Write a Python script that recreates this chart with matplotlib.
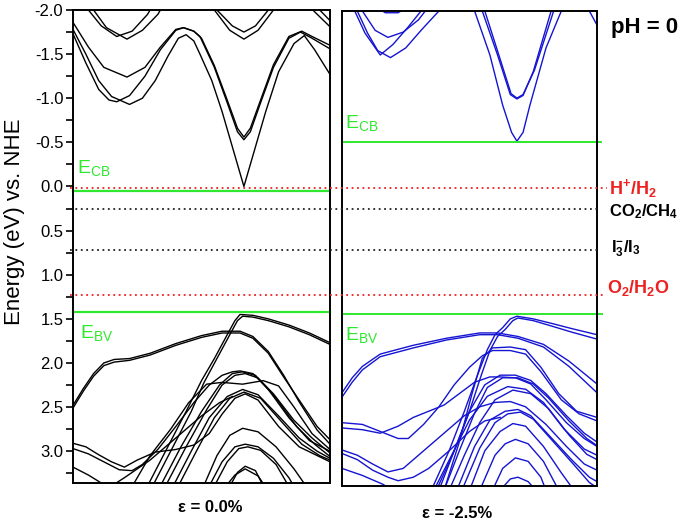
import matplotlib.pyplot as plt
from matplotlib.lines import Line2D
from matplotlib.ticker import MultipleLocator, FormatStrFormatter
from matplotlib.transforms import blended_transform_factory

plt.rcParams['font.family'] = ['Liberation Sans', 'DejaVu Sans']
plt.rcParams['mathtext.fontset'] = 'custom'
plt.rcParams['mathtext.rm'] = 'Liberation Sans'
plt.rcParams['mathtext.bf'] = 'Liberation Sans:bold'
plt.rcParams['mathtext.it'] = 'Liberation Sans:italic'
plt.rcParams['axes.unicode_minus'] = False

# reference levels (eV vs. NHE, pH = 0)
level_names = ['H+/H2', 'CO2/CH4', 'I3-/I3', 'O2/H2O']
level_values = [0.02, 0.26, 0.72, 1.23]
level_colors = ['#ee2020', '#222222', '#222222', '#ee2020']

# band edges for the two strains
strain_labels = ['ε = 0.0%', 'ε = -2.5%']
cb_edges = [0.05, -0.515]
vb_edges = [1.42, 1.44]

# band lines: (k, E) with k from 0 to 1 across a panel
left_cb = [
    [(0.02, -2.2), (0.06, -2.0), (0.11, -1.82), (0.17, -1.70), (0.23, -1.76), (0.29, -1.95), (0.32, -2.1)],
    [(0.04, -2.2), (0.08, -2.0), (0.13, -1.80), (0.21, -1.67), (0.27, -1.77), (0.33, -1.95), (0.36, -2.1)],
    [(0.52, -2.2), (0.56, -2.0), (0.62, -1.82), (0.665, -1.75), (0.71, -1.82), (0.76, -2.0), (0.79, -2.15)],
    [(0.51, -2.2), (0.55, -2.0), (0.61, -1.77), (0.665, -1.67), (0.72, -1.77), (0.78, -2.0), (0.81, -2.15)],
    [(0.93, -2.1), (0.96, -2.0), (1.0, -1.88)],
    [(0.90, -2.1), (0.94, -1.98), (1.0, -1.81)],
    [(0.0, -1.73), (0.05, -1.40), (0.10, -1.10), (0.14, -0.98), (0.17, -0.96), (0.22, -1.03), (0.28, -1.25),
     (0.34, -1.55), (0.40, -1.77), (0.43, -1.80), (0.47, -1.76), (0.494, -1.70), (0.55, -1.35), (0.60, -0.95),
     (0.64, -0.62), (0.665, -0.53), (0.69, -0.62), (0.73, -0.95), (0.78, -1.35), (0.84, -1.68), (0.885, -1.75),
     (0.93, -1.68), (1.0, -1.56)],
    [(0.0, -1.78), (0.05, -1.50), (0.10, -1.20), (0.15, -1.02), (0.22, -0.93), (0.27, -1.00), (0.32, -1.20),
     (0.37, -1.48), (0.41, -1.68), (0.44, -1.72), (0.47, -1.65), (0.494, -1.50), (0.54, -1.20), (0.58, -0.85),
     (0.62, -0.45), (0.665, 0.0), (0.71, -0.45), (0.75, -0.85), (0.80, -1.30), (0.86, -1.62), (0.90, -1.71),
     (0.94, -1.55), (1.0, -1.27)],
    [(0.0, -1.86), (0.06, -1.58), (0.12, -1.35), (0.21, -1.24), (0.28, -1.35), (0.34, -1.58), (0.40, -1.78),
     (0.43, -1.80), (0.47, -1.76), (0.50, -1.68), (0.55, -1.37), (0.60, -0.98), (0.64, -0.66), (0.665, -0.56),
     (0.69, -0.66), (0.73, -0.98), (0.78, -1.38), (0.84, -1.70), (0.89, -1.76), (0.93, -1.70), (1.0, -1.60)],
]

left_vb = [
    [(0.28, 3.45), (0.36, 3.0), (0.44, 2.55), (0.50, 2.2), (0.55, 1.95), (0.60, 1.68), (0.63, 1.52), (0.65, 1.45),
     (0.70, 1.46), (0.76, 1.50), (0.84, 1.57), (0.92, 1.66), (1.0, 1.77)],
    [(0.30, 3.45), (0.38, 3.0), (0.46, 2.55), (0.51, 2.22), (0.56, 1.95), (0.61, 1.68), (0.64, 1.52), (0.66, 1.47),
     (0.70, 1.48), (0.76, 1.52), (0.84, 1.59), (0.92, 1.68), (1.0, 1.79)],
    [(0.0, 2.51), (0.04, 2.32), (0.08, 2.15), (0.12, 2.03), (0.16, 1.99), (0.22, 1.97), (0.30, 1.91), (0.40, 1.80),
     (0.50, 1.71), (0.58, 1.66), (0.65, 1.66), (0.70, 1.72), (0.76, 1.89), (0.82, 2.16), (0.88, 2.42),
     (0.95, 2.72), (1.0, 2.87)],
    [(0.0, 2.48), (0.04, 2.29), (0.08, 2.12), (0.12, 2.00), (0.16, 1.96), (0.22, 1.95), (0.30, 1.89), (0.40, 1.78),
     (0.50, 1.69), (0.58, 1.64), (0.65, 1.64), (0.70, 1.70), (0.76, 1.87), (0.82, 2.14), (0.88, 2.44),
     (0.95, 2.76), (1.0, 2.92)],
    [(0.33, 3.45), (0.42, 2.95), (0.50, 2.55), (0.57, 2.25), (0.62, 2.12), (0.66, 2.10), (0.71, 2.14), (0.78, 2.35),
     (0.86, 2.65), (0.93, 2.85), (1.0, 3.02)],
    [(0.35, 3.45), (0.44, 2.95), (0.52, 2.53), (0.58, 2.25), (0.63, 2.14), (0.67, 2.12), (0.72, 2.17), (0.79, 2.40),
     (0.87, 2.72), (0.94, 2.92), (1.0, 3.06)],
    [(0.22, 3.45), (0.30, 3.05), (0.38, 2.75), (0.45, 2.45), (0.52, 2.24), (0.58, 2.22), (0.66, 2.24), (0.74, 2.20),
     (0.80, 2.26), (0.86, 2.50), (0.93, 2.80), (1.0, 2.98)],
    [(0.38, 3.45), (0.46, 3.0), (0.53, 2.62), (0.60, 2.38), (0.66, 2.30), (0.72, 2.36), (0.80, 2.60), (0.88, 2.85),
     (0.95, 3.0), (1.0, 3.08)],
    [(0.40, 3.45), (0.48, 3.0), (0.55, 2.62), (0.61, 2.40), (0.665, 2.33), (0.73, 2.40), (0.81, 2.66), (0.89, 2.92),
     (0.96, 3.05), (1.0, 3.10)],
    [(0.50, 3.45), (0.56, 3.05), (0.61, 2.82), (0.66, 2.74), (0.72, 2.78), (0.79, 2.95), (0.86, 3.20), (0.92, 3.45)],
    [(0.52, 3.45), (0.58, 3.12), (0.63, 2.95), (0.67, 2.92), (0.72, 2.95), (0.78, 3.08), (0.84, 3.30), (0.87, 3.45)],
    [(0.54, 3.45), (0.60, 3.12), (0.645, 2.97), (0.68, 2.95), (0.73, 2.99), (0.79, 3.15), (0.85, 3.45)],
    [(0.60, 3.45), (0.64, 3.24), (0.67, 3.17), (0.71, 3.22), (0.75, 3.45)],
    [(0.58, 3.45), (0.63, 3.27), (0.67, 3.20), (0.72, 3.28), (0.76, 3.45)],
    [(0.0, 2.91), (0.05, 2.95), (0.10, 3.04), (0.15, 3.12), (0.20, 3.18), (0.25, 3.10), (0.32, 3.01), (0.40, 2.98),
     (0.47, 2.93), (0.53, 2.80), (0.58, 2.58), (0.63, 2.40), (0.67, 2.35), (0.72, 2.42), (0.80, 2.72),
     (0.88, 2.95), (1.0, 3.12)],
    [(0.0, 2.97), (0.06, 3.03), (0.12, 3.12), (0.18, 3.21), (0.23, 3.22), (0.27, 3.15), (0.33, 2.98), (0.40, 2.72),
     (0.47, 2.45), (0.53, 2.25), (0.58, 2.14), (0.62, 2.10), (0.65, 2.09), (0.70, 2.12), (0.76, 2.30),
     (0.84, 2.62), (0.92, 2.88), (1.0, 3.0)],
    [(0.0, 3.18), (0.06, 3.27), (0.11, 3.36), (0.13, 3.45)],
    [(0.12, 3.45), (0.20, 3.30), (0.30, 3.10), (0.40, 2.85), (0.50, 2.60), (0.57, 2.45), (0.62, 2.38)],
]

right_cb = [
    [(0.03, -2.2), (0.06, -2.0), (0.10, -1.75), (0.14, -1.55), (0.19, -1.47), (0.25, -1.58), (0.31, -1.78),
     (0.38, -2.0), (0.41, -2.15)],
    [(0.02, -2.2), (0.05, -2.0), (0.09, -1.75), (0.15, -1.50), (0.20, -1.62), (0.26, -1.82), (0.31, -2.0),
     (0.33, -2.15)],
    [(0.05, -2.15), (0.08, -2.0), (0.13, -1.78), (0.18, -1.70), (0.24, -1.76), (0.30, -1.90), (0.34, -2.05)],
    [(0.13, -2.05), (0.17, -1.98), (0.22, -1.98), (0.26, -2.05)],
    [(0.50, -2.15), (0.52, -2.0), (0.58, -1.50), (0.63, -0.93), (0.665, -0.62), (0.686, -0.52), (0.71, -0.62),
     (0.737, -0.93), (0.80, -1.58), (0.86, -2.0), (0.88, -2.15)],
    [(0.535, -2.15), (0.55, -2.0), (0.61, -1.50), (0.66, -1.05), (0.686, -1.00), (0.71, -1.04), (0.75, -1.31),
     (0.82, -2.0), (0.84, -2.15)],
    [(0.545, -2.15), (0.56, -2.0), (0.615, -1.50), (0.663, -1.06), (0.686, -1.01), (0.71, -1.05), (0.755, -1.33),
     (0.83, -2.0), (0.85, -2.15)],
    [(0.95, -2.1), (0.97, -2.0), (1.0, -1.84)],
]

right_vb = [
    [(0.35, 3.45), (0.42, 3.0), (0.48, 2.55), (0.53, 2.15), (0.57, 1.85), (0.60, 1.68), (0.63, 1.60), (0.66, 1.50),
     (0.686, 1.47), (0.75, 1.50), (0.82, 1.55), (0.90, 1.61), (1.0, 1.68)],
    [(0.37, 3.45), (0.44, 3.0), (0.50, 2.55), (0.545, 2.15), (0.58, 1.86), (0.61, 1.70), (0.64, 1.62), (0.67, 1.52),
     (0.69, 1.49), (0.75, 1.52), (0.82, 1.58), (0.90, 1.65), (1.0, 1.73)],
    [(0.0, 2.39), (0.04, 2.22), (0.08, 2.08), (0.15, 1.93), (0.28, 1.83), (0.41, 1.74), (0.54, 1.68), (0.61, 1.68),
     (0.69, 1.72), (0.79, 1.82), (0.89, 2.04), (1.0, 2.34)],
    [(0.0, 2.34), (0.04, 2.17), (0.08, 2.04), (0.15, 1.90), (0.28, 1.80), (0.41, 1.72), (0.54, 1.66), (0.61, 1.66),
     (0.69, 1.70), (0.79, 1.79), (0.89, 1.98), (1.0, 2.24)],
    [(0.40, 3.45), (0.46, 2.9), (0.51, 2.35), (0.55, 1.95), (0.59, 1.83), (0.66, 1.82), (0.72, 1.85), (0.78, 2.05),
     (0.85, 2.35), (0.92, 2.55), (1.0, 2.62)],
    [(0.38, 3.45), (0.44, 3.0), (0.50, 2.55), (0.56, 2.25), (0.62, 2.14), (0.68, 2.14), (0.74, 2.20), (0.80, 2.35),
     (0.88, 2.60), (0.95, 2.80), (1.0, 2.90)],
    [(0.40, 3.45), (0.46, 3.0), (0.52, 2.57), (0.57, 2.28), (0.63, 2.17), (0.69, 2.17), (0.75, 2.24), (0.81, 2.40),
     (0.89, 2.66), (0.96, 2.86), (1.0, 2.94)],
    [(0.36, 3.45), (0.43, 3.05), (0.50, 2.65), (0.57, 2.38), (0.65, 2.27), (0.72, 2.30), (0.79, 2.45), (0.87, 2.75),
     (0.95, 2.98), (1.0, 3.05)],
    [(0.42, 3.45), (0.48, 3.05), (0.54, 2.68), (0.60, 2.42), (0.67, 2.31), (0.74, 2.35), (0.81, 2.52), (0.89, 2.82),
     (0.96, 3.04), (1.0, 3.10)],
    [(0.45, 3.45), (0.52, 2.95), (0.58, 2.65), (0.64, 2.55), (0.69, 2.53), (0.74, 2.60), (0.82, 2.85), (0.90, 3.10),
     (0.97, 3.30), (1.0, 3.35)],
    [(0.47, 3.45), (0.54, 2.97), (0.60, 2.68), (0.65, 2.58), (0.70, 2.56), (0.75, 2.64), (0.83, 2.90), (0.91, 3.16),
     (0.97, 3.36), (1.0, 3.42)],
    [(0.50, 3.45), (0.56, 3.0), (0.62, 2.78), (0.67, 2.69), (0.72, 2.72), (0.79, 2.95), (0.86, 3.25), (0.91, 3.45)],
    [(0.54, 3.45), (0.60, 3.05), (0.64, 2.92), (0.68, 2.87), (0.73, 2.92), (0.79, 3.12), (0.85, 3.45)],
    [(0.59, 3.45), (0.63, 3.2), (0.68, 3.08), (0.73, 3.12), (0.78, 3.30), (0.80, 3.45)],
    [(0.62, 3.45), (0.66, 3.32), (0.69, 3.30), (0.73, 3.35), (0.76, 3.45)],
    [(0.0, 2.68), (0.08, 2.70), (0.15, 2.78), (0.22, 2.86), (0.26, 2.86), (0.32, 2.70), (0.38, 2.50), (0.44, 2.25),
     (0.50, 2.05), (0.55, 1.92), (0.59, 1.86), (0.66, 1.86), (0.72, 1.90), (0.78, 2.10), (0.86, 2.42),
     (0.93, 2.58), (1.0, 2.66)],
    [(0.0, 2.74), (0.08, 2.76), (0.15, 2.80), (0.22, 2.72), (0.28, 2.62), (0.34, 2.55), (0.40, 2.48), (0.46, 2.35),
     (0.52, 2.22), (0.58, 2.16), (0.62, 2.16), (0.68, 2.17), (0.74, 2.24), (0.80, 2.42), (0.88, 2.68),
     (0.95, 2.86), (1.0, 2.95)],
    [(0.0, 2.99), (0.06, 3.05), (0.12, 3.15), (0.18, 3.24), (0.24, 3.20), (0.30, 3.05), (0.36, 2.90), (0.42, 2.75),
     (0.48, 2.60), (0.54, 2.50), (0.60, 2.45), (0.66, 2.44), (0.72, 2.50), (0.80, 2.70), (0.88, 2.95),
     (0.95, 3.15), (1.0, 3.22)],
    [(0.0, 3.03), (0.06, 3.10), (0.12, 3.22), (0.18, 3.30), (0.22, 3.34), (0.28, 3.30), (0.34, 3.20), (0.42, 3.0),
     (0.50, 2.78), (0.56, 2.66), (0.62, 2.62)],
    [(0.0, 3.20), (0.08, 3.28), (0.16, 3.38), (0.20, 3.45)],
]

W, H = 685, 520
fig = plt.figure(figsize=(W / 100, H / 100), dpi=100)


def px_box(x0, y0, x1, y1):
    # pixel box (top-left origin) -> figure fraction rect
    return [x0 / W, 1 - y1 / H, (x1 - x0) / W, (y1 - y0) / H]


ax1 = fig.add_axes(px_box(73, 10, 330, 483))
ax2 = fig.add_axes(px_box(342, 11, 597, 486))

green = '#2ee82e'
for ax, cb, vb, color in [(ax1, left_cb, left_vb, 'black'), (ax2, right_cb, right_vb, '#1414d2')]:
    for band in cb + vb:
        k, e = zip(*band)
        ax.plot(k, e, color=color, lw=1.0)
    ax.set_xlim(0, 1)
    ax.set_xticks([])
    for s in ax.spines.values():
        s.set_linewidth(1.4)

ax1.set_ylim(3.36, -2.0)
ax2.set_ylim(3.40, -2.0)
ax1.yaxis.set_major_locator(MultipleLocator(0.5))
ax1.yaxis.set_minor_locator(MultipleLocator(0.25))
ax1.yaxis.set_major_formatter(FormatStrFormatter('%.1f'))
ax1.tick_params(axis='y', which='both', direction='out', labelsize=12, width=1.2)
ax1.tick_params(axis='y', which='major', length=5, pad=2)
ax1.tick_params(axis='y', which='minor', length=5)
ax2.set_yticks([])

# band edge lines
ax1.axhline(cb_edges[0], 0, 1, color=green, lw=1.6, clip_on=False)
ax1.axhline(vb_edges[0], 0, 1, color=green, lw=1.6, clip_on=False)
ax2.axhline(cb_edges[1], 0, 1.015, color=green, lw=1.4, clip_on=False)
ax2.axhline(vb_edges[1], 0, 1.02, color=green, lw=1.4, clip_on=False)

# redox levels drawn across both panels
trans = blended_transform_factory(fig.transFigure, ax1.transData)
level_ends = [607, 598, 598, 604]
for val, col, x_end in zip(level_values, level_colors, level_ends):
    fig.add_artist(Line2D([70 / W, x_end / W], [val, val], transform=trans, color=col,
                          lw=1.3, linestyle=(0, (1, 2))))

# texts
txt = dict(color=green, fontsize=14)
fig.text(77 / W, 1 - 173 / H, r'E$_{\mathrm{CB}}$', **txt)
fig.text(80 / W, 1 - 338 / H, r'E$_{\mathrm{BV}}$', **txt)
fig.text(345 / W, 1 - 128 / H, r'E$_{\mathrm{CB}}$', **txt)
fig.text(345 / W, 1 - 340 / H, r'E$_{\mathrm{BV}}$', **txt)

fig.text(645 / W, 1 - 28 / H, 'pH = 0', fontsize=16, fontweight='bold', ha='center', va='center')
fig.text(609 / W, 1 - 188 / H, r'H$^{\mathbf{+}}$/H$_{\mathbf{2}}$', fontsize=13, fontweight='bold',
         color=level_colors[0], va='center')
fig.text(609 / W, 1 - 212 / H, r'CO$_{\mathbf{2}}$/CH$_{\mathbf{4}}$', fontsize=12, fontweight='bold',
         color='black', va='center')
fig.text(611 / W, 1 - 249 / H, r'I$_{\mathbf{3}}^{\mathbf{-}}$/I$_{\mathbf{3}}$', fontsize=12, fontweight='bold',
         color='black', va='center')
fig.text(607 / W, 1 - 288 / H, r'O$_{\mathbf{2}}$/H$_{\mathbf{2}}$O', fontsize=13, fontweight='bold',
         color=level_colors[3], va='center')

fig.text(210 / W, 1 - 507 / H, strain_labels[0], fontsize=12, fontweight='bold', ha='center', va='center')
fig.text(457 / W, 1 - 513 / H, strain_labels[1], fontsize=12, fontweight='bold', ha='center', va='center')

fig.text(15 / W, 1 - 222 / H, 'Energy (eV) vs. NHE', fontsize=16, rotation=90, ha='center', va='center')

fig.savefig('out.png', dpi=100)
